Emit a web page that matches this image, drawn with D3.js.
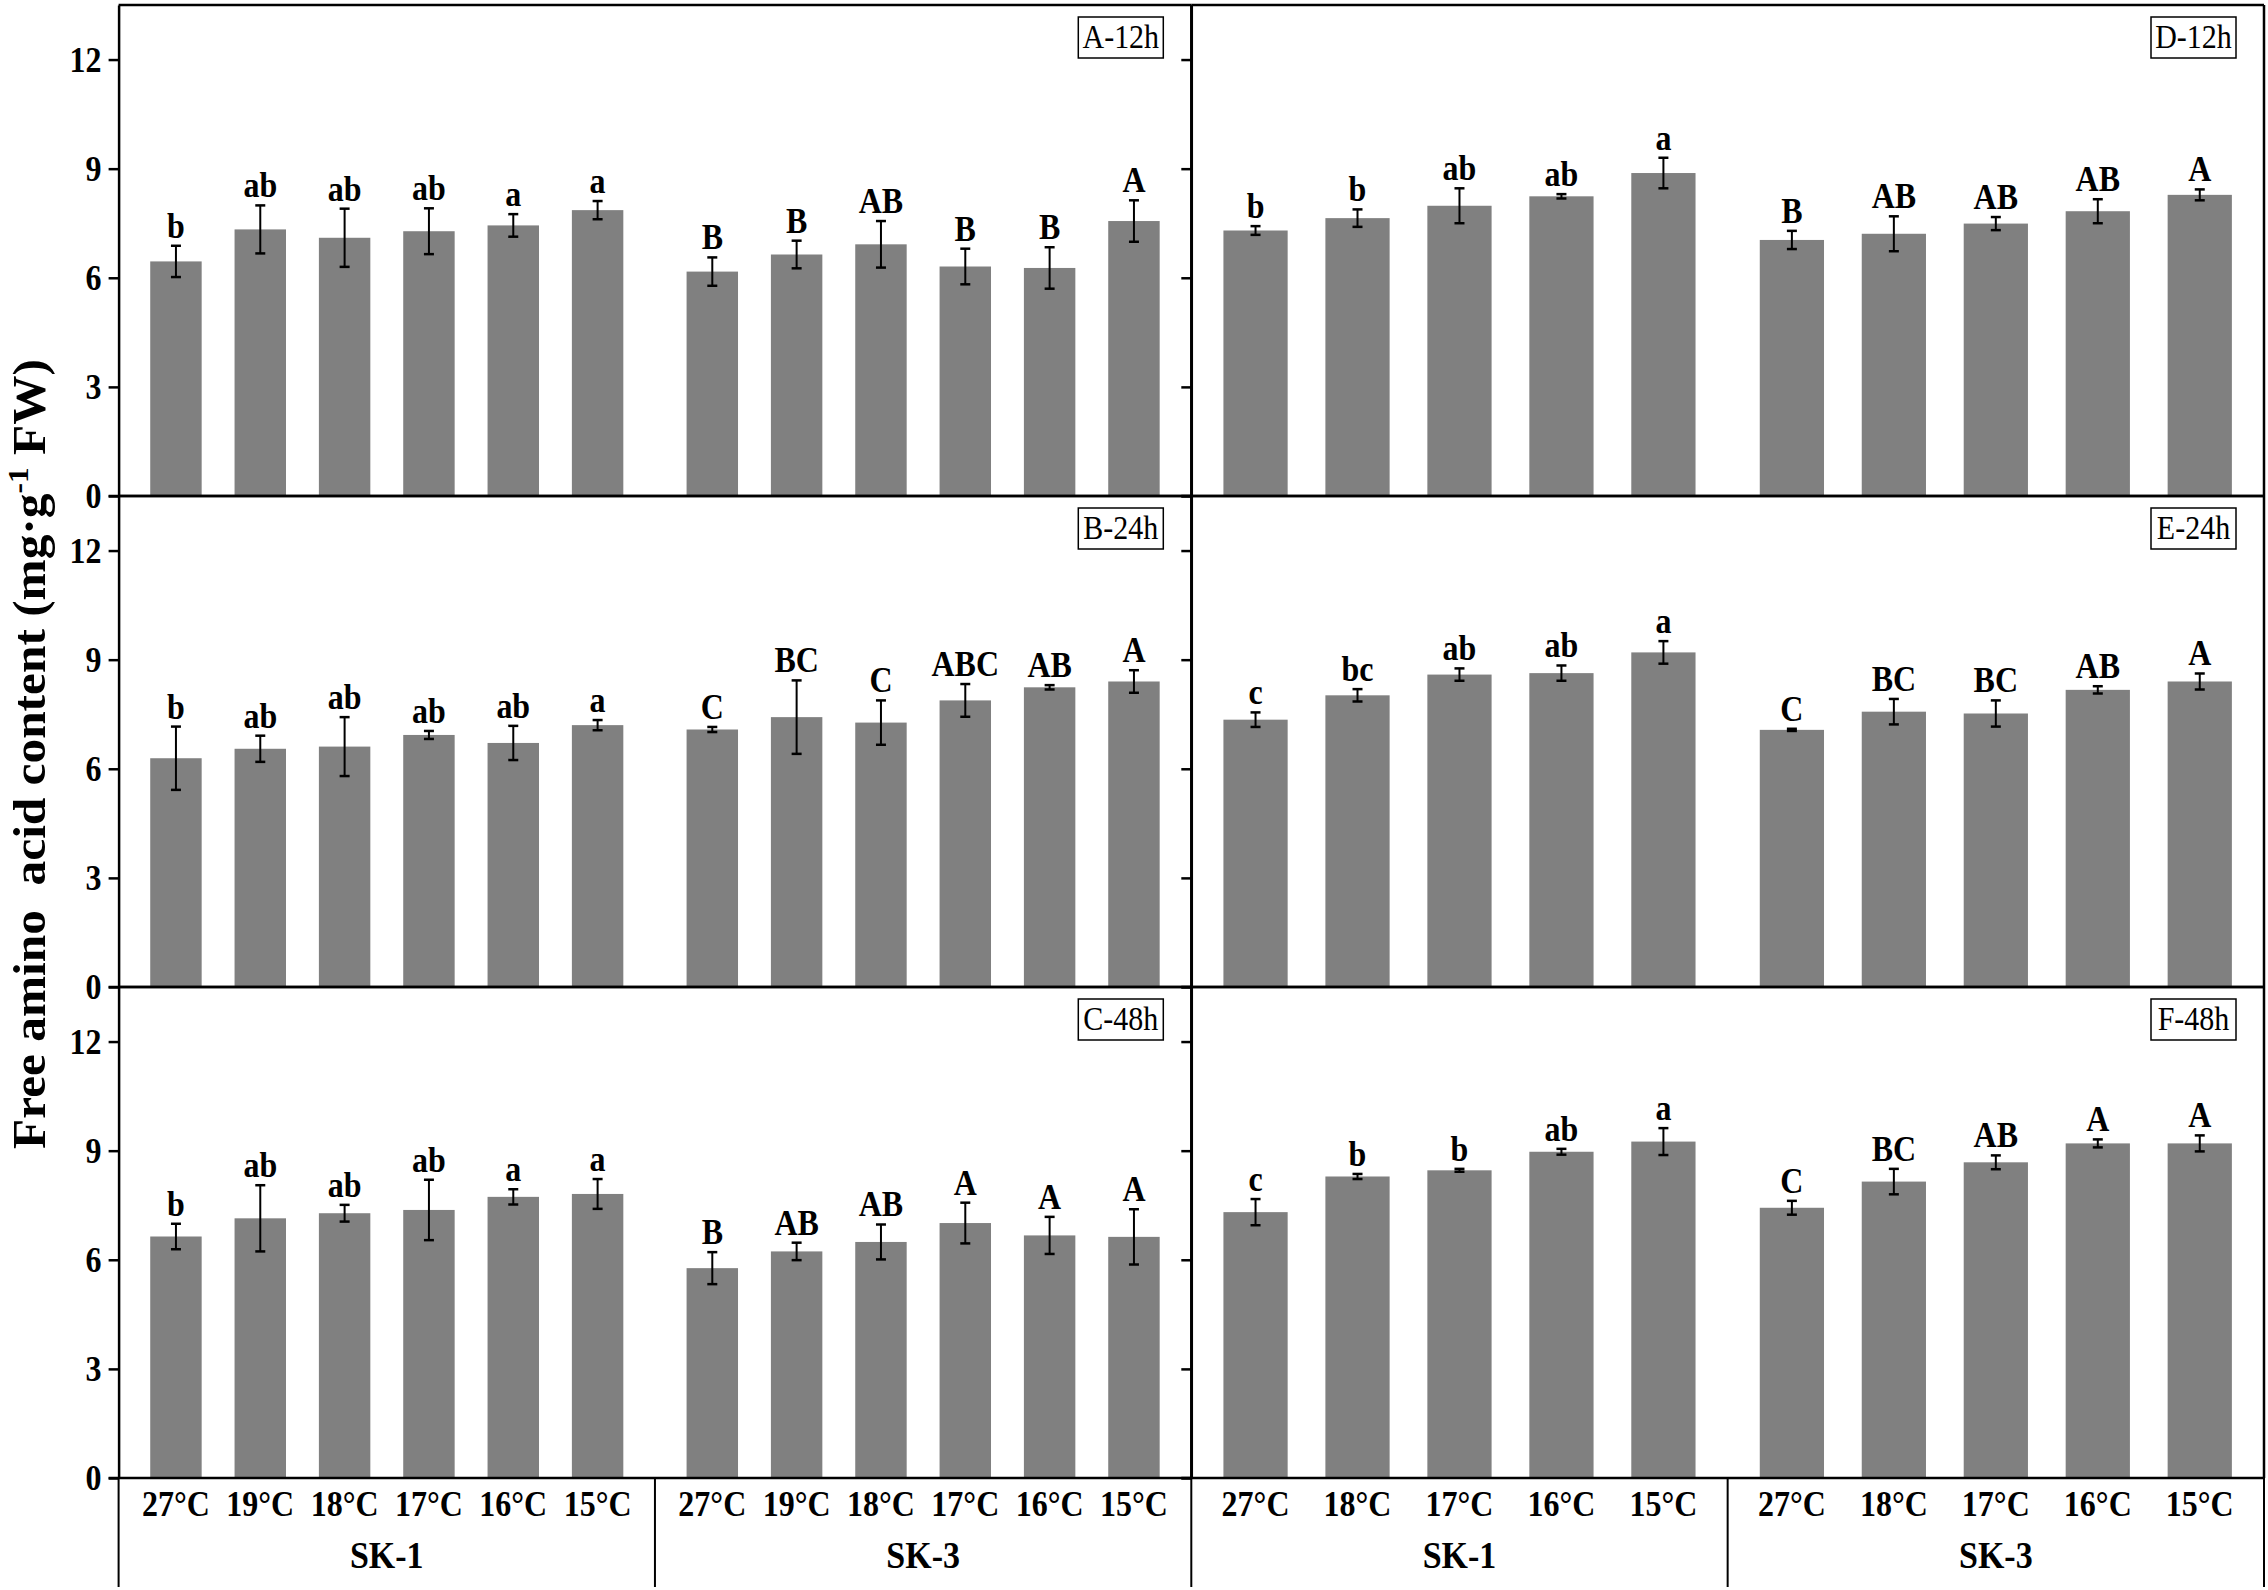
<!DOCTYPE html>
<html>
<head>
<meta charset="utf-8">
<script src="https://cdn.jsdelivr.net/npm/d3@7"></script>
<style>
body { margin: 0; background: #fff; }
text { font-family: "Liberation Serif", "Times New Roman", serif; }
</style>
</head>
<body>
<div id="chart"></div>
<script>
"use strict";

// categories
var tempsLeft = ["27°C", "19°C", "18°C", "17°C", "16°C", "15°C"];
var tempsRight = ["27°C", "18°C", "17°C", "16°C", "15°C"];
var cultivars = ["SK-1", "SK-3"];
var yTicks = [0, 3, 6, 9, 12];
var panelNames = ["A-12h", "B-24h", "C-48h", "D-12h", "E-24h", "F-48h"];

// A-12h
var aSk1 = [6.45, 7.33, 7.10, 7.28, 7.44, 7.86];
var aSk1Err = [0.43, 0.66, 0.80, 0.63, 0.31, 0.25];
var aSk1Sig = ["b", "ab", "ab", "ab", "a", "a"];
var aSk3 = [6.17, 6.64, 6.92, 6.31, 6.27, 7.56];
var aSk3Err = [0.39, 0.38, 0.64, 0.49, 0.57, 0.57];
var aSk3Sig = ["B", "B", "AB", "B", "B", "A"];

// B-24h
var bSk1 = [6.29, 6.55, 6.61, 6.93, 6.71, 7.20];
var bSk1Err = [0.87, 0.36, 0.81, 0.11, 0.47, 0.14];
var bSk1Sig = ["b", "ab", "ab", "ab", "ab", "a"];
var bSk3 = [7.08, 7.42, 7.27, 7.88, 8.24, 8.40];
var bSk3Err = [0.07, 1.01, 0.61, 0.45, 0.06, 0.31];
var bSk3Sig = ["C", "BC", "C", "ABC", "AB", "A"];

// C-48h
var cSk1 = [6.64, 7.14, 7.28, 7.37, 7.73, 7.81];
var cSk1Err = [0.35, 0.91, 0.23, 0.83, 0.21, 0.41];
var cSk1Sig = ["b", "ab", "ab", "ab", "a", "a"];
var cSk3 = [5.77, 6.23, 6.49, 7.01, 6.67, 6.63];
var cSk3Err = [0.44, 0.24, 0.48, 0.56, 0.51, 0.76];
var cSk3Sig = ["B", "AB", "AB", "A", "A", "A"];

// D-12h
var dSk1 = [7.30, 7.64, 7.98, 8.24, 8.88];
var dSk1Err = [0.12, 0.24, 0.48, 0.06, 0.42];
var dSk1Sig = ["b", "b", "ab", "ab", "a"];
var dSk3 = [7.04, 7.21, 7.49, 7.83, 8.28];
var dSk3Err = [0.25, 0.48, 0.18, 0.33, 0.15];
var dSk3Sig = ["B", "AB", "AB", "AB", "A"];

// E-24h
var eSk1 = [7.35, 8.02, 8.59, 8.63, 9.20];
var eSk1Err = [0.20, 0.17, 0.17, 0.21, 0.31];
var eSk1Sig = ["c", "bc", "ab", "ab", "a"];
var eSk3 = [7.07, 7.57, 7.52, 8.17, 8.40];
var eSk3Err = [0.03, 0.35, 0.36, 0.10, 0.22];
var eSk3Sig = ["C", "BC", "BC", "AB", "A"];

// F-48h
var fSk1 = [7.31, 8.29, 8.46, 8.97, 9.25];
var fSk1Err = [0.36, 0.07, 0.04, 0.08, 0.37];
var fSk1Sig = ["c", "b", "b", "ab", "a"];
var fSk3 = [7.43, 8.15, 8.68, 9.20, 9.20];
var fSk3Err = [0.19, 0.35, 0.19, 0.11, 0.22];
var fSk3Sig = ["C", "BC", "AB", "A", "A"];

function series(temps, mean, err, sig) {
    return temps.map(function(t, i) {
        return {temp: t, mean: mean[i], err: err[i], sig: sig[i]};
    });
}

var panels = [
    {name: panelNames[0], col: 0, row: 0, temps: tempsLeft, groups: [series(tempsLeft, aSk1, aSk1Err, aSk1Sig), series(tempsLeft, aSk3, aSk3Err, aSk3Sig)]},
    {name: panelNames[1], col: 0, row: 1, temps: tempsLeft, groups: [series(tempsLeft, bSk1, bSk1Err, bSk1Sig), series(tempsLeft, bSk3, bSk3Err, bSk3Sig)]},
    {name: panelNames[2], col: 0, row: 2, temps: tempsLeft, groups: [series(tempsLeft, cSk1, cSk1Err, cSk1Sig), series(tempsLeft, cSk3, cSk3Err, cSk3Sig)]},
    {name: panelNames[3], col: 1, row: 0, temps: tempsRight, groups: [series(tempsRight, dSk1, dSk1Err, dSk1Sig), series(tempsRight, dSk3, dSk3Err, dSk3Sig)]},
    {name: panelNames[4], col: 1, row: 1, temps: tempsRight, groups: [series(tempsRight, eSk1, eSk1Err, eSk1Sig), series(tempsRight, eSk3, eSk3Err, eSk3Sig)]},
    {name: panelNames[5], col: 1, row: 2, temps: tempsRight, groups: [series(tempsRight, fSk1, fSk1Err, fSk1Sig), series(tempsRight, fSk3, fSk3Err, fSk3Sig)]}
];

var w = 2268;
var h = 1590;
var plotLeft = 118.6;
var plotRight = 2264;
var plotTop = 5;
var rowH = 491;
var bottomLine = 1587;
var stroke = 2.5;
var stretch = 1.12; // the original figure's text is a bit taller than wide

var colScale = d3.scaleBand().domain([0, 1]).range([plotLeft, plotRight]);

function drawPanel(svg, p) {
    var x0 = colScale(p.col);
    var x1 = x0 + colScale.bandwidth();
    var yTop = plotTop + p.row * rowH;
    var yZero = yTop + rowH;

    var y = d3.scaleLinear().domain([0, 13.5]).range([yZero, yTop]);
    var groupX = d3.scaleBand().domain(cultivars).range([x0, x1]);
    var barX = d3.scaleBand().domain(p.temps).range([0, groupX.bandwidth()]);
    if (p.col === 0) {
        barX.paddingInner(0.39).paddingOuter(0.375);
    } else {
        barX.paddingInner(0.37).paddingOuter(0.315);
    }

    var g = svg.append("g");

    cultivars.forEach(function(c, gi) {
        var gg = g.append("g").attr("transform", "translate(" + groupX(c) + ",0)");
        var data = p.groups[gi];

        gg.selectAll("rect")
            .data(data)
            .enter()
            .append("rect")
            .attr("x", function(d) { return barX(d.temp); })
            .attr("y", function(d) { return y(d.mean); })
            .attr("width", barX.bandwidth())
            .attr("height", function(d) { return yZero - y(d.mean); })
            .style("fill", "#808080");

        var cx = function(d) { return barX(d.temp) + barX.bandwidth() / 2; };

        // error bars
        gg.selectAll("line.err")
            .data(data)
            .enter()
            .append("line")
            .attr("class", "err")
            .attr("x1", cx).attr("x2", cx)
            .attr("y1", function(d) { return y(d.mean - d.err); })
            .attr("y2", function(d) { return y(d.mean + d.err); })
            .style("stroke", "#000").style("stroke-width", 2);

        [1, -1].forEach(function(s) {
            gg.selectAll("line.cap" + (s > 0 ? "t" : "b"))
                .data(data)
                .enter()
                .append("line")
                .attr("class", "cap" + (s > 0 ? "t" : "b"))
                .attr("x1", function(d) { return cx(d) - 5; })
                .attr("x2", function(d) { return cx(d) + 5; })
                .attr("y1", function(d) { return y(d.mean + s * d.err); })
                .attr("y2", function(d) { return y(d.mean + s * d.err); })
                .style("stroke", "#000").style("stroke-width", 2.5);
        });

        // significance letters
        gg.selectAll("text.sig")
            .data(data)
            .enter()
            .append("text")
            .attr("class", "sig")
            .attr("transform", function(d) {
                return "translate(" + cx(d) + "," + (y(d.mean + d.err) - 8) + ") scale(1," + stretch + ")";
            })
            .attr("text-anchor", "middle")
            .style("font-size", "32px")
            .style("font-weight", "bold")
            .text(function(d) { return d.sig; });

        // category labels on the bottom row
        if (p.row === 2) {
            gg.selectAll("text.cat")
                .data(p.temps)
                .enter()
                .append("text")
                .attr("class", "cat")
                .attr("transform", function(d) {
                    return "translate(" + (barX(d) + barX.bandwidth() / 2) + "," + (yZero + 38) + ") scale(1," + stretch + ")";
                })
                .attr("text-anchor", "middle")
                .style("font-size", "32px")
                .style("font-weight", "bold")
                .text(function(d) { return d; });

            g.append("text")
                .attr("transform", "translate(" + (groupX(c) + groupX.bandwidth() / 2) + "," + (yZero + 90) + ") scale(1," + stretch + ")")
                .attr("text-anchor", "middle")
                .style("font-size", "34px")
                .style("font-weight", "bold")
                .text(c);

            g.append("line")
                .attr("x1", groupX(c)).attr("x2", groupX(c))
                .attr("y1", yZero).attr("y2", bottomLine)
                .style("stroke", "#000").style("stroke-width", 2);
            if (gi === 1 && p.col === 1) {
                g.append("line")
                    .attr("x1", x1).attr("x2", x1)
                    .attr("y1", yZero).attr("y2", bottomLine)
                    .style("stroke", "#000").style("stroke-width", 2);
            }
        }
    });

    // y axis
    var axis = d3.axisLeft(y)
        .tickValues(yTicks)
        .tickSize(10)
        .tickSizeOuter(0)
        .tickPadding(7);
    if (p.col === 1) axis.tickFormat("");

    var ax = g.append("g")
        .attr("transform", "translate(" + x0 + ",0)")
        .call(axis);
    ax.select(".domain").style("stroke-width", stroke);
    ax.selectAll(".tick line").style("stroke-width", stroke);
    ax.selectAll(".tick text")
        .attr("transform", "scale(1," + stretch + ")")
        .style("font-family", "'Liberation Serif', 'Times New Roman', serif")
        .style("font-size", "32px")
        .style("font-weight", "bold")
        .style("fill", "#000");

    // frame: bottom, top, right
    g.append("line")
        .attr("x1", x0 - 10).attr("x2", x1)
        .attr("y1", yZero).attr("y2", yZero)
        .style("stroke", "#000").style("stroke-width", stroke);
    g.append("line")
        .attr("x1", x0).attr("x2", x1)
        .attr("y1", yTop).attr("y2", yTop)
        .style("stroke", "#000").style("stroke-width", stroke);
    g.append("line")
        .attr("x1", x1).attr("x2", x1)
        .attr("y1", yTop).attr("y2", yZero)
        .style("stroke", "#000").style("stroke-width", stroke);

    // panel label box
    var bx = x1 - 28 - 85;
    g.append("rect")
        .attr("x", bx).attr("y", yTop + 12)
        .attr("width", 85).attr("height", 41)
        .style("fill", "#fff").style("stroke", "#000").style("stroke-width", 1.5);
    g.append("text")
        .attr("transform", "translate(" + (bx + 42.5) + "," + (yTop + 43) + ") scale(1," + stretch + ")")
        .attr("text-anchor", "middle")
        .style("font-size", "30px")
        .text(p.name);
}

function init() {
    var svg = d3.select("#chart")
        .append("svg")
        .attr("width", w)
        .attr("height", h)
        .style("background", "#fff");

    panels.forEach(function(p) {
        drawPanel(svg, p);
    });

    // y axis title, stretched along its length like the original
    var title = svg.append("text")
        .attr("transform", "translate(45,754) rotate(-90) scale(1.05,1)")
        .attr("text-anchor", "middle")
        .style("font-size", "47px")
        .style("font-weight", "bold")
        .style("white-space", "pre");
    title.append("tspan").text("Free amino  acid content (mg·g");
    title.append("tspan").attr("dy", -17).style("font-size", "30px").text("-1");
    title.append("tspan").attr("dy", 17).text(" FW)");
}

window.onload = init;
</script>
</body>
</html>
